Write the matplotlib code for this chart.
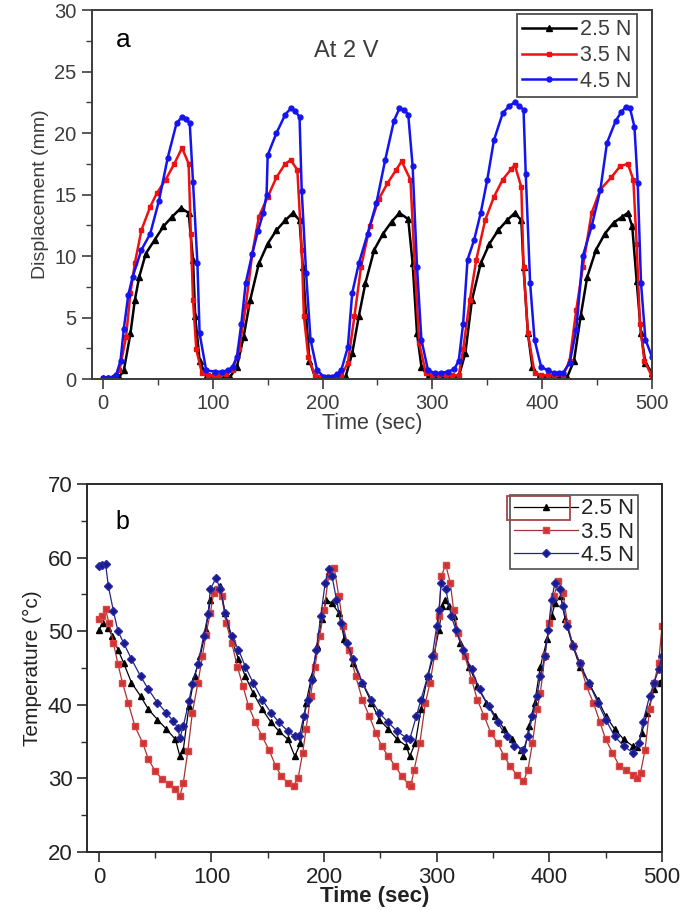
import matplotlib
matplotlib.use("Agg")
import matplotlib.pyplot as plt
from matplotlib.patches import Rectangle
from matplotlib.ticker import MultipleLocator

plt.rcParams['font.family'] = ['Liberation Sans', 'DejaVu Sans']

# ---------------- Panel a : displacement (mm) vs time (sec) ----------------
disp_labels = ["2.5 N", "3.5 N", "4.5 N"]

disp_25N = [(0,0.1),(5,0.1),(10,0.1),(15,0.2),(19,0.7),(25,3.7),(29,6.4),(33,8.3),(39,10.2),(47,11.3),
            (55,12.4),(63,13.2),(71,13.9),(78,13.5),(82,9.7),(84,5.1),(88,1.5),(94,0.2),(100,0.1),(105,0.1),
            (110,0.1),(116,0.2),(122,1.0),(128,3.4),(134,6.4),(142,9.4),(150,11.0),(158,12.1),(166,12.9),(173,13.5),
            (179,12.9),(182,9.1),(185,5.1),(188,1.5),(193,0.2),(200,0.1),(205,0.1),(210,0.1),(215,0.1),(221,0.2),
            (227,2.1),(233,5.1),(239,7.8),(247,10.5),(255,11.8),(263,12.8),(270,13.5),(278,13.0),(282,9.4),(286,3.7),
            (290,1.0),(296,0.2),(302,0.1),(308,0.1),(314,0.1),(320,0.1),(324,0.2),(330,2.1),(336,6.4),(344,9.4),
            (352,11.0),(360,12.1),(368,12.9),(375,13.5),(381,12.9),(383,9.1),(387,3.7),(391,1.0),(397,0.2),(403,0.1),
            (409,0.1),(415,0.1),(423,0.2),(429,1.5),(435,5.1),(441,8.3),(449,10.5),(457,11.8),(465,12.7),(473,13.2),
            (478,13.5),(482,12.4),(486,8.0),(490,3.7),(494,1.3),(500,0.5)]

disp_35N = [(0,0.1),(5,0.1),(10,0.2),(15,0.7),(21,3.4),(25,7.0),(29,9.4),(35,12.1),(43,14.0),(49,15.1),
            (57,16.2),(65,17.5),(72,18.8),(78,17.5),(80,11.8),(82,6.4),(85,2.4),(90,0.5),(96,0.3),(101,0.3),
            (106,0.3),(112,0.4),(118,0.7),(124,2.4),(130,5.9),(136,10.2),(142,13.2),(150,14.8),(158,16.4),(166,17.5),
            (171,17.8),(177,17.0),(181,10.5),(183,5.1),(187,1.8),(193,0.3),(199,0.2),(205,0.2),(211,0.2),(217,0.3),
            (223,1.3),(229,5.1),(235,9.1),(243,12.4),(251,14.6),(259,15.9),(267,17.0),(272,17.7),(280,16.2),(284,9.1),
            (288,2.9),(294,0.5),(300,0.3),(306,0.3),(312,0.3),(318,0.3),(324,0.3),(328,2.4),(334,6.4),(340,9.7),
            (348,12.9),(356,14.8),(364,16.2),(372,17.1),(375,17.4),(381,15.6),(383,9.1),(387,3.7),(393,0.5),(399,0.3),
            (405,0.3),(411,0.3),(419,0.3),(425,1.5),(431,5.6),(437,9.1),(445,13.5),(453,15.4),(463,16.4),(471,17.3),
            (478,17.5),(483,16.2),(486,11.0),(489,4.5),(493,1.5),(500,0.2)]

disp_45N = [(0,0.1),(5,0.1),(10,0.2),(12,0.3),(16,1.5),(19,4.1),(23,6.8),(27,8.3),(35,10.5),(43,11.8),
            (51,14.5),(59,18.0),(67,20.8),(72,21.3),(76,21.1),(79,20.8),(82,16.0),(86,9.4),(88,3.7),(94,0.7),
            (102,0.6),(108,0.6),(114,0.7),(118,1.0),(122,1.8),(126,4.5),(130,7.8),(136,10.2),(141,12.0),(146,13.5),
            (149,15.0),(150,18.2),(158,20.0),(166,21.5),(171,22.0),(175,21.8),(179,21.3),(181,15.3),(185,8.6),(189,3.2),
            (195,0.7),(201,0.2),(205,0.2),(209,0.2),(213,0.4),(217,0.7),(223,2.6),(227,7.0),(233,9.4),(241,11.8),
            (249,14.3),(257,17.8),(265,21.0),(270,22.0),(274,21.9),(278,21.5),(282,17.3),(286,9.1),(290,3.2),(296,0.7),
            (302,0.5),(308,0.5),(314,0.6),(320,0.8),(324,1.5),(328,4.5),(332,9.7),(338,11.3),(344,13.5),(350,16.2),
            (356,19.4),(364,21.6),(370,22.2),(375,22.5),(379,22.2),(383,21.9),(385,16.7),(389,7.8),(393,3.2),(399,1.0),
            (405,0.7),(411,0.5),(415,0.5),(419,0.5),(425,1.3),(431,4.0),(437,10.0),(445,12.4),(453,15.4),(459,19.2),
            (467,21.0),(472,21.7),(476,22.1),(480,22.0),(484,20.5),(487,15.9),(490,7.8),(494,3.2),(500,1.8)]

# ---------------- Panel b : temperature (°c) vs time (sec) ----------------
temp_labels = ["2.5 N", "3.5 N", "4.5 N"]

temp_25N = [(0,50.2),(4,51.1),(8,50.5),(12,49.3),(17,47.5),(22,45.7),(29,43.0),(37,41.2),(44,39.4),(52,38.0),
            (60,36.7),(68,35.3),(72,33.0),(75,33.9),(80,39.8),(85,43.9),(90,46.6),(95,50.2),(99,54.3),(103,55.7),
            (108,56.1),(112,52.5),(118,48.9),(124,46.2),(130,43.9),(137,41.6),(145,39.4),(153,37.6),(160,36.4),(168,35.3),
            (174,33.0),(179,34.8),(184,40.3),(189,43.9),(194,48.0),(198,51.6),(202,54.3),(207,53.8),(213,52.5),(218,48.9),
            (226,45.7),(234,43.0),(242,40.3),(249,38.0),(257,36.7),(265,35.3),(273,34.4),(276,33.0),(281,34.8),(286,39.4),
            (292,43.9),(298,47.1),(302,50.2),(305,53.4),(307,54.3),(311,53.4),(315,52.0),(321,48.4),(329,45.2),(336,42.5),
            (344,40.3),(352,38.5),(360,36.7),(367,35.3),(375,33.9),(377,33.0),(382,37.1),(387,40.3),(392,45.2),(398,48.9),
            (402,52.0),(405,53.8),(410,54.8),(414,51.6),(420,48.4),(427,45.2),(435,43.0),(443,40.7),(450,38.5),(458,36.7),
            (466,35.3),(474,34.4),(478,34.2),(482,36.2),(487,38.9),(493,42.1),(497,43.0),(500,43.4)]

temp_35N = [(0,51.6),(3,52.0),(6,53.0),(9,51.1),(13,48.4),(17,45.5),(21,43.0),(26,40.3),(32,37.1),(39,34.8),
            (44,32.6),(50,31.0),(56,29.9),(62,29.2),(68,28.5),(72,27.6),(75,29.4),(79,33.7),(83,38.9),(88,43.0),
            (92,46.6),(95,49.5),(99,52.5),(102,55.2),(106,55.7),(109,54.8),(113,51.1),(118,48.4),(123,45.2),(128,42.5),
            (133,39.8),(139,37.6),(145,35.7),(151,33.9),(157,31.7),(162,30.3),(168,29.4),(173,29.0),(177,30.1),(181,33.5),
            (184,36.7),(188,41.2),(192,45.2),(196,49.3),(200,52.9),(204,57.5),(209,58.6),(213,54.8),(217,50.7),(222,47.5),
            (228,43.9),(234,40.7),(240,38.5),(246,36.2),(251,34.4),(257,33.0),(263,31.7),(269,30.3),(275,29.2),(277,29.0),
            (280,31.2),(285,34.8),(290,40.3),(294,43.0),(298,46.6),(302,52.0),(304,57.5),(308,59.0),(312,56.6),(315,52.9),
            (319,49.8),(325,46.6),(331,43.4),(336,40.7),(342,38.5),(348,36.2),(354,34.8),(360,33.0),(365,31.7),(371,30.5),
            (377,29.6),(381,31.2),(385,34.8),(389,39.4),(392,41.6),(396,46.6),(400,51.1),(404,54.8),(408,56.8),(412,55.2),
            (416,51.1),(421,48.0),(427,45.7),(433,42.5),(439,40.3),(445,37.6),(450,35.3),(456,33.5),(462,31.7),(468,31.2),
            (474,30.5),(478,30.1),(481,30.8),(485,33.9),(489,39.4),(493,43.0),(497,45.7),(500,50.7)]

temp_45N = [(0,58.8),(3,59.0),(6,59.1),(8.5,56.1),(13,52.7),(17,50.0),(22,48.4),(29,46.2),(37,43.9),(44,42.1),
            (52,40.3),(60,38.9),(66,37.8),(70,36.9),(72,35.5),(75,37.1),(80,40.5),(83,42.8),(88,45.5),(93,49.3),
            (97,52.3),(99,55.7),(104,57.2),(108,55.7),(112,52.5),(118,49.3),(124,47.5),(130,45.2),(137,43.0),(145,40.7),
            (153,38.9),(160,37.6),(168,36.4),(174,35.7),(178,35.7),(182,38.5),(186,40.7),(189,43.4),(193,47.5),(197,52.0),
            (201,56.6),(204,58.4),(207,57.5),(211,54.3),(215,51.1),(220,48.4),(226,46.2),(234,43.0),(242,40.7),(249,38.9),
            (257,37.6),(265,36.4),(273,35.5),(276,35.3),(282,38.5),(286,40.7),(292,43.9),(296,46.6),(300,50.7),(302,52.9),
            (304,56.6),(308,55.7),(313,52.0),(317,50.2),(323,47.5),(331,44.8),(338,42.1),(346,39.8),(354,37.6),(362,35.7),
            (369,34.4),(377,33.9),(381,35.7),(385,38.5),(389,41.2),(392,43.9),(396,46.6),(399,50.2),(402,54.3),(405,56.6),
            (409,55.7),(412,53.4),(416,50.7),(421,48.0),(427,45.7),(435,43.0),(443,40.3),(450,38.0),(458,35.7),(466,34.4),
            (474,33.5),(480,34.8),(483,37.6),(489,41.2),(493,43.0),(497,44.8),(500,46.6)]

xticks_vals = [0, 100, 200, 300, 400, 500]

fig = plt.figure(figsize=(6.85, 9.10), dpi=100)

# ---------- top axes ----------
W, H = 685.0, 910.0
axa = fig.add_axes([92/W, 1-379/H, (652-92)/W, (379-10)/H])
gray = '#3c3c3c'
styles_a = [dict(color='black', marker='^', ms=4.5, lw=1.8),
            dict(color='#ee1111', marker='s', ms=3.5, lw=1.8),
            dict(color='#1414ee', marker='o', ms=3.5, lw=1.8)]
for data, lab, st in zip([disp_25N, disp_35N, disp_45N], disp_labels, styles_a):
    t, v = zip(*data)
    axa.plot(t, v, label=lab, **st)
axa.set_xlim(-10, 500)
axa.set_ylim(0, 30)
axa.set_xticks(xticks_vals)
axa.xaxis.set_minor_locator(MultipleLocator(50))
axa.yaxis.set_major_locator(MultipleLocator(5))
axa.yaxis.set_minor_locator(MultipleLocator(2.5))
axa.tick_params(which='major', direction='out', length=7, width=1.2, colors=gray, labelsize=14.5, labelcolor=gray, pad=4)
axa.tick_params(which='minor', direction='out', length=4, width=1.0, colors=gray)
for sp in axa.spines.values():
    sp.set_color(gray)
    sp.set_linewidth(1.4)
axa.set_xlabel("Time (sec)", fontsize=15.5, color=gray, labelpad=0)
axa.set_ylabel("Displacement (mm)", fontsize=14, color=gray, labelpad=4)
axa.text(0.043, 0.90, "a", transform=axa.transAxes, fontsize=19, color='black', ha='left', va='baseline')
axa.text(0.396, 0.873, "At 2 V", transform=axa.transAxes, fontsize=17, color=gray, ha='left', va='baseline')
lega = axa.legend(loc='upper right', bbox_to_anchor=(0.973, 0.989), borderaxespad=0, fontsize=15.5,
                  handlelength=2.5, handletextpad=0.2, labelspacing=0.22, borderpad=0.25,
                  frameon=True, fancybox=False, edgecolor='#222222', labelcolor=gray)
lega.get_frame().set_linewidth(1.3)

# ---------- bottom axes ----------
axb = fig.add_axes([87/W, 1-852/H, (662-87)/W, (852-484)/H])
dark = '#2a2a2a'
styles_b = [dict(color='black', marker='^', ms=5, lw=0.9, mfc='black', mec='black'),
            dict(color='#a83232', marker='s', ms=4.5, lw=0.9, mfc='#cc3333', mec='#dd4444'),
            dict(color='#22228a', marker='D', ms=4, lw=0.9, mfc='#1a1a90', mec='#2a2aa0')]
for data, lab, st in zip([temp_25N, temp_35N, temp_45N], temp_labels, styles_b):
    t, v = zip(*data)
    axb.plot(t, v, label=lab, **st)
axb.set_xlim(-10.5, 500)
axb.set_ylim(20, 70)
axb.set_xticks(xticks_vals)
axb.xaxis.set_minor_locator(MultipleLocator(50))
axb.yaxis.set_major_locator(MultipleLocator(10))
axb.yaxis.set_minor_locator(MultipleLocator(5))
axb.tick_params(which='major', direction='out', length=7, width=1.2, colors=dark, labelsize=16, labelcolor='#222222')
axb.tick_params(which='minor', direction='out', length=4, width=1.0, colors=dark)
for sp in axb.spines.values():
    sp.set_color(dark)
    sp.set_linewidth(1.4)
axb.set_xlabel("Time (sec)", fontsize=16, fontweight='bold', color='#222222', labelpad=-1)
axb.set_ylabel("Temperature (°c)", fontsize=15, color='#222222', labelpad=4)
axb.text(0.050, 0.878, "b", transform=axb.transAxes, fontsize=18, color='black', ha='left', va='baseline')
legb = axb.legend(loc='upper right', bbox_to_anchor=(0.958, 0.970), borderaxespad=0, fontsize=16,
                  handlelength=2.9, handletextpad=0.15, labelspacing=0.1, borderpad=0.15,
                  frameon=True, fancybox=False, edgecolor='#222222', labelcolor='#222222')
legb.get_frame().set_linewidth(1.2)
axb.add_patch(Rectangle((0.730, 0.902), 0.110, 0.065, transform=axb.transAxes, fill=False,
                        edgecolor='#a04848', lw=1.3, zorder=6, clip_on=False))

fig.savefig("out.png", dpi=100)
